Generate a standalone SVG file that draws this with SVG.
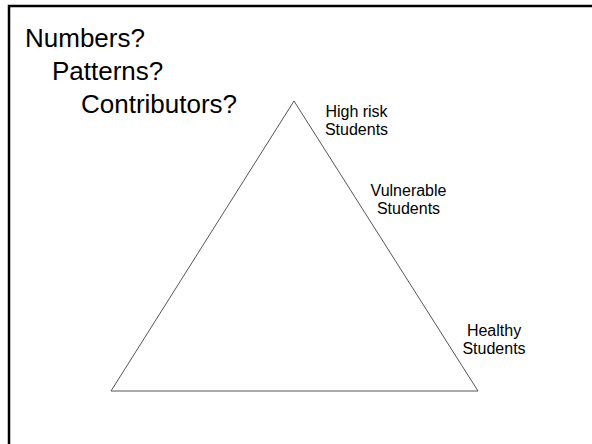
<svg xmlns="http://www.w3.org/2000/svg" width="592" height="444" viewBox="0 0 592 444">
<style>
.big{font-family:"Liberation Sans",Arial,sans-serif;font-size:26px;fill:#000}
.lbl{font-family:"Liberation Sans",Arial,sans-serif;font-size:16px;fill:#000;text-anchor:middle}
</style>
<rect width="592" height="444" fill="#fff"/>
<path d="M9 444 V6 H592" fill="none" stroke="#000" stroke-width="2.5"/>
<g id="questions">
<text class="big" x="25" y="47">Numbers?</text>
<text class="big" x="52" y="80">Patterns?</text>
<text class="big" x="81" y="113">Contributors?</text>
</g>
<g id="triangle">
<polygon points="294,101 478,391 111,391" fill="none" stroke="#555" stroke-width="1"/>
</g>
<g id="high-risk">
<text class="lbl" x="356.5" y="117">High risk</text>
<text class="lbl" x="356.5" y="135">Students</text>
</g>
<g id="vulnerable">
<text class="lbl" x="408.5" y="196">Vulnerable</text>
<text class="lbl" x="408.5" y="214">Students</text>
</g>
<g id="healthy">
<text class="lbl" x="494" y="336">Healthy</text>
<text class="lbl" x="494" y="354">Students</text>
</g>
</svg>
